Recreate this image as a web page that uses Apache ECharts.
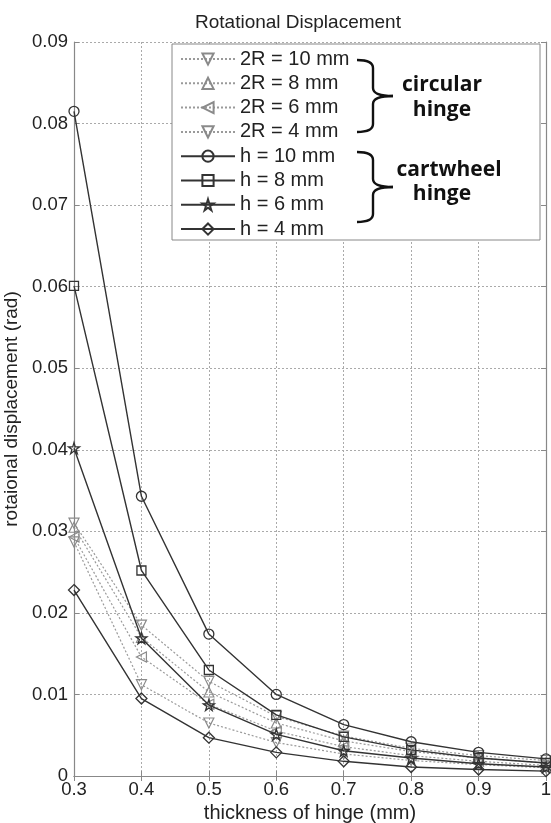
<!DOCTYPE html>
<html><head><meta charset="utf-8">
<script src="https://cdn.jsdelivr.net/npm/echarts@6/dist/echarts.min.js"></script>
<style>html,body{margin:0;padding:0;background:#fff}#c{width:551px;height:823px}</style>
</head><body><div id="c"></div>
<script>
var thickness = ['0.3','0.4','0.5','0.6','0.7','0.8','0.9','1'];
var circ10 = [0.0310, 0.0185, 0.0116, 0.0073, 0.0049, 0.0034, 0.0025, 0.0019];
var circ8  = [0.0305, 0.0170, 0.0103, 0.0065, 0.0043, 0.0030, 0.0022, 0.0016];
var circ6  = [0.0293, 0.0146, 0.0088, 0.0055, 0.0036, 0.0025, 0.0018, 0.0013];
var circ4  = [0.0287, 0.0112, 0.0065, 0.0041, 0.0027, 0.0019, 0.0014, 0.0010];
var cart10 = [0.0815, 0.0343, 0.0174, 0.0100, 0.0063, 0.0042, 0.0029, 0.0021];
var cart8  = [0.0601, 0.0252, 0.0130, 0.0075, 0.0048, 0.0032, 0.0022, 0.0016];
var cart6  = [0.0402, 0.0169, 0.0087, 0.0051, 0.0031, 0.0022, 0.0015, 0.0011];
var cart4  = [0.0228, 0.0095, 0.0047, 0.0029, 0.0018, 0.0011, 0.0008, 0.0006];
var seriesNames = ['2R = 10 mm','2R = 8 mm','2R = 6 mm','2R = 4 mm','h = 10 mm','h = 8 mm','h = 6 mm','h = 4 mm'];

var STAR = 'path://M50,0 L61,35 L98,35 L68,57 L79,91 L50,70 L21,91 L32,57 L2,35 L39,35 Z';
function circSeries(name, data, sym, rot) {
  return {name: name, type: 'line', data: data, symbol: sym, symbolSize: 10, symbolRotate: rot,
    lineStyle: {color: '#9a9a9a', width: 1.2, type: [2, 2]},
    itemStyle: {color: 'rgba(255,255,255,0)', borderColor: '#8a8a8a', borderWidth: 1.2},
    z: 2};
}
function cartSeries(name, data, sym, size) {
  return {name: name, type: 'line', data: data, symbol: sym, symbolSize: size,
    lineStyle: {color: '#333', width: 1.4, type: 'solid'},
    itemStyle: {color: 'rgba(255,255,255,0)', borderColor: '#333', borderWidth: 1.3},
    z: 3};
}
var FONT = '"Liberation Sans", Arial, sans-serif';
function brace(x0, y0, y1, xm, xt) {
  var ym = (y0 + y1) / 2, r = 8;
  var st = {stroke: '#111', lineWidth: 2.4, fill: null};
  return [
    {type: 'bezierCurve', shape: {x1: x0, y1: y0, cpx1: xm, cpy1: y0, x2: xm, y2: y0 + r}, style: st, z: 10},
    {type: 'line', shape: {x1: xm, y1: y0 + r, x2: xm, y2: ym - r}, style: st, z: 10},
    {type: 'bezierCurve', shape: {x1: xm, y1: ym - r, cpx1: xm, cpy1: ym, x2: xt, y2: ym}, style: st, z: 10},
    {type: 'bezierCurve', shape: {x1: xt, y1: ym, cpx1: xm, cpy1: ym, x2: xm, y2: ym + r}, style: st, z: 10},
    {type: 'line', shape: {x1: xm, y1: ym + r, x2: xm, y2: y1 - r}, style: st, z: 10},
    {type: 'bezierCurve', shape: {x1: xm, y1: y1 - r, cpx1: xm, cpy1: y1, x2: x0, y2: y1}, style: st, z: 10}
  ];
}
var labelStyle = {fontFamily: '"Open Sans", "Noto Sans", sans-serif', fontWeight: 'bold', fontSize: 21, fill: '#111', textAlign: 'center', textVerticalAlign: 'middle'};
var graphics = [
  {type: 'rect', shape: {x: 172, y: 44, width: 368, height: 196}, style: {fill: '#fff', stroke: '#888', lineWidth: 1}, z: 3}
].concat(brace(357, 60, 132, 373, 393)).concat(brace(357, 152, 222, 373, 393)).concat([
  {type: 'text', x: 442, y: 85, style: Object.assign({text: 'circular'}, labelStyle), z: 10},
  {type: 'text', x: 442, y: 110, style: Object.assign({text: 'hinge'}, labelStyle), z: 10},
  {type: 'text', x: 449, y: 170, style: Object.assign({text: 'cartwheel'}, labelStyle), z: 10},
  {type: 'text', x: 442, y: 194, style: Object.assign({text: 'hinge'}, labelStyle), z: 10}
]);

var chart = echarts.init(document.getElementById('c'), null, {renderer: 'canvas'});
chart.setOption({
  animation: false,
  backgroundColor: '#fff',
  title: {text: 'Rotational Displacement', left: 293, textAlign: 'center', top: 8,
    textStyle: {fontFamily: FONT, fontSize: 19, fontWeight: 'normal', color: '#222'}},
  grid: {left: 74, right: 5, top: 42, bottom: 47, containLabel: false, outerBoundsMode: 'none'},
  legend: {orient: 'vertical', left: 172, top: 47, padding: [2, 8, 5, 8], itemWidth: 54, itemHeight: 14, itemGap: 4.3,
    data: seriesNames, z: 6,
    textStyle: {fontFamily: FONT, fontSize: 20, color: '#222', lineHeight: 20}},
  xAxis: [{type: 'category', data: thickness, boundaryGap: false,
    name: 'thickness of hinge (mm)', nameLocation: 'middle', nameGap: 27,
    nameTextStyle: {fontFamily: FONT, fontSize: 20, color: '#222'},
    axisLine: {lineStyle: {color: '#888', width: 1.2}},
    axisTick: {inside: true, length: 5, lineStyle: {color: '#888'}},
    axisLabel: {fontFamily: FONT, fontSize: 18.5, color: '#222', margin: 4},
    splitLine: {show: true, lineStyle: {color: '#aaa', type: [2, 2], width: 1}}},
    {type: 'category', data: thickness, boundaryGap: false, position: 'top',
    axisLine: {lineStyle: {color: '#888', width: 1.2}},
    axisTick: {inside: true, length: 5, lineStyle: {color: '#888'}},
    axisLabel: {show: false}, splitLine: {show: false}}],
  yAxis: [{type: 'value', min: 0, max: 0.09, interval: 0.01,
    name: 'rotaional displacement (rad)', nameLocation: 'middle', nameGap: 45,
    nameTextStyle: {fontFamily: FONT, fontSize: 19, color: '#222'},
    axisLine: {show: true, lineStyle: {color: '#888', width: 1.2}},
    axisTick: {show: true, inside: true, length: 5, lineStyle: {color: '#888'}},
    axisLabel: {fontFamily: FONT, fontSize: 18.5, color: '#222', margin: 6,
      formatter: function (v) { return String(+v.toFixed(2)); }},
    splitLine: {show: true, lineStyle: {color: '#aaa', type: [2, 2], width: 1}}},
    {type: 'value', min: 0, max: 0.09, interval: 0.01, position: 'right',
    axisLine: {show: true, lineStyle: {color: '#888', width: 1.2}},
    axisTick: {show: true, inside: true, length: 5, lineStyle: {color: '#888'}},
    axisLabel: {show: false}, splitLine: {show: false}}],
  graphic: graphics,
  series: [
    circSeries(seriesNames[0], circ10, 'triangle', 180),
    circSeries(seriesNames[1], circ8, 'triangle', 0),
    circSeries(seriesNames[2], circ6, 'triangle', 90),
    circSeries(seriesNames[3], circ4, 'triangle', 180),
    cartSeries(seriesNames[4], cart10, 'circle', 10),
    cartSeries(seriesNames[5], cart8, 'rect', 9),
    cartSeries(seriesNames[6], cart6, STAR, 11),
    cartSeries(seriesNames[7], cart4, 'diamond', 11)
  ]
});
</script></body></html>
